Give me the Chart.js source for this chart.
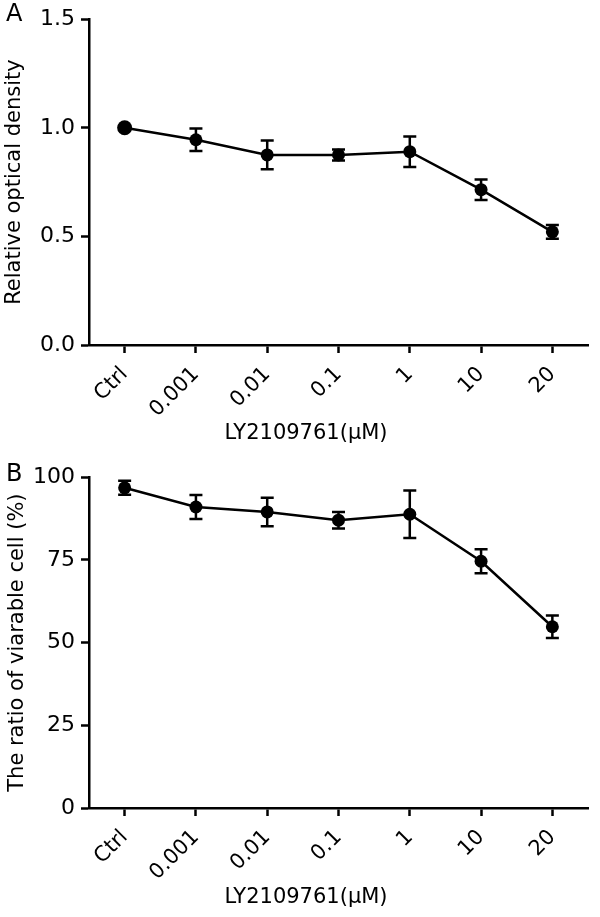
<!DOCTYPE html>
<html>
<head>
<meta charset="utf-8">
<script src="https://cdn.jsdelivr.net/npm/chart.js@4"></script>
<style>
  body { margin: 0; background: #fff; }
  canvas { display: block; }
</style>
</head>
<body>
<canvas id="graficoA" width="600" height="458"></canvas>
<canvas id="graficoB" width="600" height="459"></canvas>
<script>
const categorias = ['Ctrl', '0.001', '0.01', '0.1', '1', '10', '20']

// painel A - densidade optica relativa
const densidadeMedia = [1.0, 0.945, 0.875, 0.875, 0.89, 0.715, 0.521]
const densidadeErro = [0, 0.052, 0.066, 0.025, 0.07, 0.047, 0.032]
const densidadeTicks = [0, 0.5, 1.0, 1.5]

// painel B - celulas viaveis (%)
const viavelMedia = [96.8, 91.0, 89.5, 87.0, 88.8, 74.6, 54.8]
const viavelErro = [2.1, 3.6, 4.3, 2.5, 7.2, 3.6, 3.4]
const viavelTicks = [0, 25, 50, 75, 100]

const FONTE = 'DejaVu Sans'

const barrasErro = {
  id: 'barrasErro',
  afterDatasetsDraw(chart, args, opts) {
    const { ctx, scales: { y } } = chart
    const meta = chart.getDatasetMeta(0)
    const valores = chart.data.datasets[0].data
    ctx.save()
    ctx.strokeStyle = '#000'
    ctx.lineWidth = 2.5
    opts.erros.forEach((e, i) => {
      if (!e) return
      const px = meta.data[i].x
      const topo = y.getPixelForValue(valores[i] + e)
      const base = y.getPixelForValue(valores[i] - e)
      ctx.beginPath()
      ctx.moveTo(px, topo); ctx.lineTo(px, base)
      ctx.moveTo(px - 6.5, topo); ctx.lineTo(px + 6.5, topo)
      ctx.moveTo(px - 6.5, base); ctx.lineTo(px + 6.5, base)
      ctx.stroke()
    })
    ctx.restore()
  }
}

const textos = {
  id: 'textos',
  afterDraw(chart, args, opts) {
    const { ctx, chartArea } = chart
    ctx.save()
    ctx.fillStyle = '#000'
    ctx.font = `24px ${FONTE}`
    ctx.textAlign = 'left'
    ctx.textBaseline = 'middle'
    ctx.fillText(opts.painel, 6, opts.painelY)

    ctx.font = `21px ${FONTE}`
    ctx.textAlign = 'center'
    ctx.fillText(opts.tituloX, 306, opts.tituloXY)

    ctx.translate(opts.tituloYX, (chartArea.top + chartArea.bottom) / 2)
    ctx.rotate(-Math.PI / 2)
    ctx.fillText(opts.tituloY, 0, 0)
    ctx.restore()
  }
}

function criarGrafico(id, medias, erros, ticksY, cfg) {
  return new Chart(document.getElementById(id), {
    type: 'line',
    data: {
      labels: categorias,
      datasets: [{
        data: medias,
        borderColor: '#000',
        borderWidth: 2.5,
        backgroundColor: '#000',
        pointRadius: cfg.raios,
        pointBackgroundColor: '#000',
        pointBorderWidth: 0,
        tension: 0
      }]
    },
    options: {
      responsive: false,
      animation: false,
      devicePixelRatio: 1,
      layout: { padding: { top: cfg.topo, right: 12, left: 0, bottom: 0 } },
      plugins: {
        legend: { display: false },
        tooltip: { enabled: false },
        barrasErro: { erros },
        textos: cfg.textos
      },
      scales: {
        x: {
          offset: true,
          afterFit: (s) => { s.height = cfg.alturaX },
          grid: { drawOnChartArea: false, tickLength: 8, tickWidth: 2.5, tickColor: '#000', offset: false },
          border: { color: '#000', width: 2.5 },
          ticks: {
            color: '#000',
            font: { family: FONTE, size: 21 },
            minRotation: 45,
            maxRotation: 45,
            autoSkip: false,
            padding: 9
          }
        },
        y: {
          min: ticksY[0],
          max: ticksY[ticksY.length - 1],
          afterFit: (s) => { s.width = 89 },
          afterBuildTicks: (s) => { s.ticks = ticksY.map((v) => ({ value: v })) },
          grid: { drawOnChartArea: false, tickLength: 8, tickWidth: 2.5, tickColor: '#000' },
          border: { color: '#000', width: 2.5 },
          ticks: {
            color: '#000',
            font: { family: FONTE, size: 22 },
            padding: 6,
            callback: cfg.formato
          }
        }
      }
    },
    plugins: [barrasErro, textos]
  })
}

criarGrafico('graficoA', densidadeMedia, densidadeErro, densidadeTicks, {
  topo: 14,
  alturaX: 113,
  raios: [7.5, 6.5, 6.5, 6.5, 6.5, 6.5, 6.5],
  formato: (v) => Number(v).toFixed(1),
  textos: { painel: 'A', painelY: 15, tituloX: 'LY2109761(\u03bcM)', tituloXY: 434, tituloY: 'Relative optical density', tituloYX: 15 }
})

criarGrafico('graficoB', viavelMedia, viavelErro, viavelTicks, {
  topo: 15,
  alturaX: 109,
  raios: 6.5,
  formato: (v) => String(v),
  textos: { painel: 'B', painelY: 17, tituloX: 'LY2109761(\u03bcM)', tituloXY: 440, tituloY: 'The ratio of viarable cell (%)', tituloYX: 18 }
})
</script>
</body>
</html>
